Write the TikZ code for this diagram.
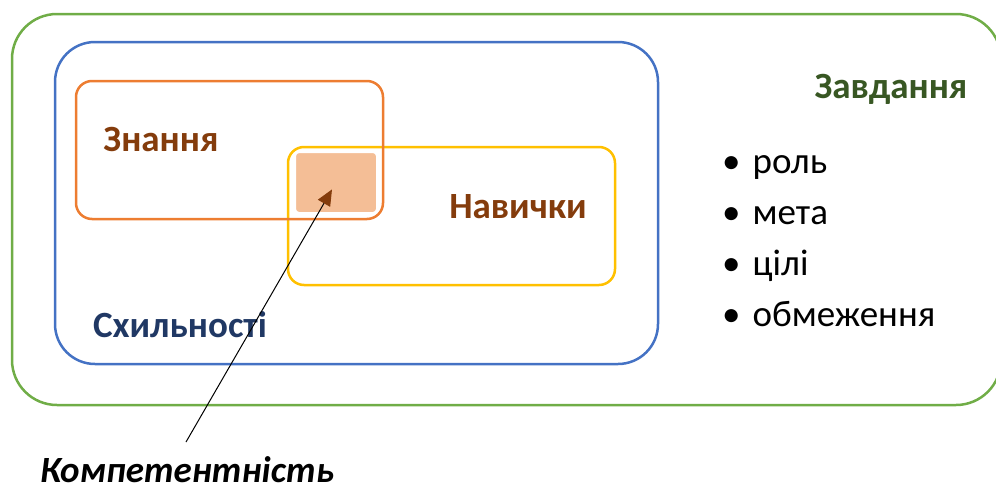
\documentclass[tikz,border=0pt]{standalone}
\usepackage{fontspec}
\setmainfont{Carlito}
\usetikzlibrary{arrows.meta,fit}

\definecolor{taskgreen}{HTML}{70AD47}
\definecolor{taskdark}{HTML}{385723}
\definecolor{inclblue}{HTML}{4472C4}
\definecolor{incldark}{HTML}{203864}
\definecolor{knoworange}{HTML}{ED7D31}
\definecolor{skillyellow}{HTML}{FFC000}
\definecolor{compfill}{HTML}{F4BE96}
\definecolor{labelbrown}{HTML}{843C0C}

\begin{document}
\begin{tikzpicture}[
    x=1pt, y=-1pt,
    frame/.style={draw, line width=2.5pt, inner sep=0pt},
    title/.style={font=\fontsize{37}{40}\selectfont\bfseries, inner sep=0pt},
    pointer/.style={line width=1pt, -{Triangle[length=16pt, width=14pt, color=labelbrown]}}]

  \useasboundingbox (0,0) rectangle (996,493);

  % ---- nested areas ----
  \node[frame, draw=taskgreen, rounded corners=45pt, fit={(12,14) (1001,405)}] (task) {};
  \node[frame, draw=inclblue, rounded corners=40pt, fit={(55,42) (658,364)}] (incl) {};
  \node[frame, draw=skillyellow, rounded corners=16pt, fit={(288,147) (615,285)}] (skill) {};
  \node[frame, draw=knoworange, rounded corners=16pt, fit={(76,81) (383,219)}] (know) {};

  % ---- overlap of knowledge and skills ----
  \node[fill=compfill, draw=white, line width=2pt, rounded corners=4pt,
    inner sep=0pt, fit={(295,152) (377,213)}] (comp) {};

  % ---- labels ----
  \node[title, text=labelbrown] (knowlbl) at (161,140) {Знання};
  \node[title, text=labelbrown] (skilllbl) at (518,207) {Навички};
  \node[title, text=incldark] (incllbl) at (180,325) {Схильності};
  \node[title, text=taskdark] (tasklbl) at (891,89) {Завдання};

  % ---- task items ----
  \node[anchor=north west, align=left, inner sep=0pt,
    font=\fontsize{37}{51}\selectfont] (tasklist) at (722,155)
    {•\hspace{12pt}роль\\ •\hspace{12pt}мета\\ •\hspace{12pt}цілі\\ •\hspace{12pt}обмеження};

  % ---- competence pointer ----
  \node[title, font=\fontsize{37}{40}\selectfont\bfseries\itshape] (complbl) at (187,470)
    {Компетентність};
  \coordinate (tail) at (186,442);
  \draw[pointer, shorten >=8pt] (tail) -- (comp.center);
\end{tikzpicture}
\end{document}
